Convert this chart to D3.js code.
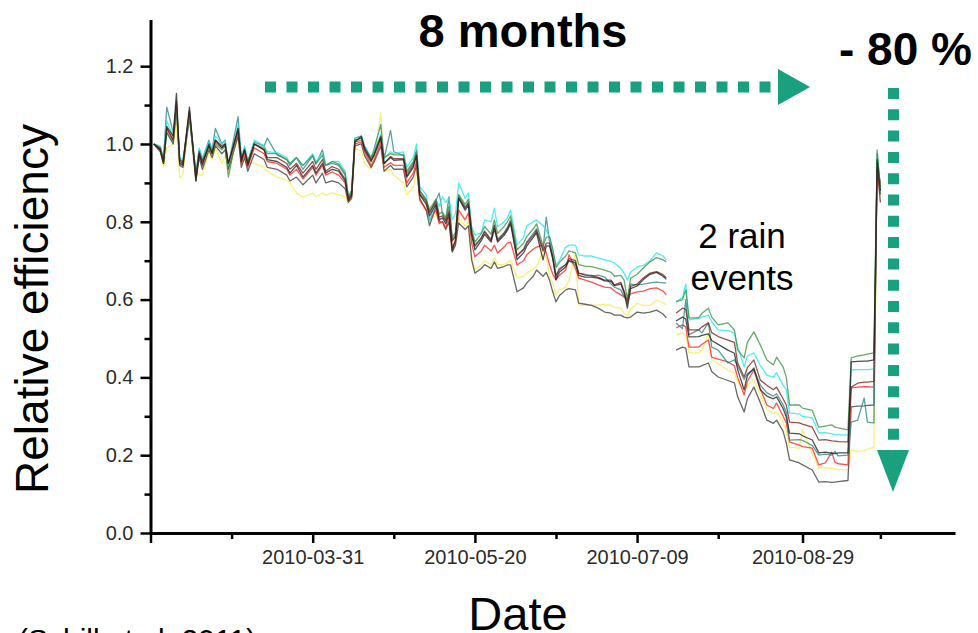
<!DOCTYPE html>
<html>
<head>
<meta charset="utf-8">
<script src="https://cdn.jsdelivr.net/npm/d3@7"></script>
<style>
  body { margin: 0; background: #fff; }
  svg { display: block; }
</style>
</head>
<body>
<svg id="chart" width="978" height="633"></svg>
<script>
// Sample dates (daily readings, turning points kept)
const dates = [
  "2010-02-10","2010-02-12","2010-02-13","2010-02-14","2010-02-16","2010-02-17","2010-02-18","2010-02-19","2010-02-21","2010-02-23",
  "2010-02-24","2010-02-25","2010-02-27","2010-02-28","2010-03-01","2010-03-03","2010-03-04","2010-03-05","2010-03-08","2010-03-09",
  "2010-03-10","2010-03-11","2010-03-13","2010-03-16","2010-03-17","2010-03-20","2010-03-23","2010-03-24","2010-03-26","2010-03-28",
  "2010-03-31","2010-04-01","2010-04-03","2010-04-04","2010-04-06","2010-04-08","2010-04-10","2010-04-11","2010-04-12","2010-04-13",
  "2010-04-15","2010-04-16","2010-04-18","2010-04-19","2010-04-21","2010-04-22","2010-04-24","2010-04-25","2010-04-28","2010-04-29",
  "2010-05-01","2010-05-02","2010-05-03","2010-05-05","2010-05-06","2010-05-08","2010-05-09","2010-05-10","2010-05-11","2010-05-12",
  "2010-05-13","2010-05-14","2010-05-15","2010-05-17","2010-05-18","2010-05-19","2010-05-20","2010-05-22","2010-05-23","2010-05-25",
  "2010-05-26","2010-05-27","2010-05-29","2010-05-30","2010-05-31","2010-06-02","2010-06-04","2010-06-05","2010-06-07","2010-06-08",
  "2010-06-10","2010-06-11","2010-06-12","2010-06-13","2010-06-14","2010-06-15","2010-06-17","2010-06-18","2010-06-20","2010-06-21",
  "2010-06-23","2010-06-25","2010-06-27","2010-06-29","2010-07-01","2010-07-02","2010-07-04","2010-07-05","2010-07-06","2010-07-07",
  "2010-07-09","2010-07-11","2010-07-13","2010-07-15","2010-07-17","2010-07-18",
  "2010-07-21","2010-07-23","2010-07-24","2010-07-25","2010-07-28","2010-07-29","2010-07-31","2010-08-01","2010-08-03","2010-08-06",
  "2010-08-08","2010-08-09","2010-08-11","2010-08-12","2010-08-14","2010-08-16","2010-08-18","2010-08-20","2010-08-21","2010-08-23",
  "2010-08-24","2010-08-25","2010-08-28","2010-08-29","2010-09-01","2010-09-03","2010-09-05","2010-09-07","2010-09-08","2010-09-09",
  "2010-09-12","2010-09-13","2010-09-15","2010-09-17","2010-09-18","2010-09-20","2010-09-21","2010-09-22"
];
// No readings between these two dates (rain events)
const gapAfter = "2010-07-18";

const cyanValues = [
  1.000,0.995,0.965,1.060,1.020,1.100,0.965,0.960,1.080,0.925,
  0.990,0.965,1.005,0.985,1.020,1.000,1.010,0.945,1.050,0.965,
  0.995,0.955,1.010,0.995,0.980,0.978,0.965,0.950,0.965,0.945,
  0.975,0.955,0.975,0.945,0.955,0.955,0.930,0.865,0.880,1.015,
  1.020,0.995,0.965,0.985,1.025,0.962,0.980,0.975,0.980,0.940,
  0.965,1.000,0.890,0.870,0.800,0.856,0.840,0.864,0.850,0.862,
  0.805,0.820,0.900,0.860,0.874,0.787,0.766,0.772,0.805,0.800,
  0.835,0.787,0.800,0.810,0.830,0.740,0.760,0.790,0.800,0.805,
  0.790,0.779,0.760,0.727,0.689,0.700,0.735,0.740,0.740,0.715,
  0.712,0.712,0.707,0.702,0.698,0.694,0.680,0.668,0.650,0.670,
  0.684,0.688,0.700,0.720,0.712,0.702,
  0.595,0.605,0.640,0.548,0.552,0.555,0.560,0.543,0.522,0.520,
  0.514,0.480,0.427,0.455,0.463,0.430,0.406,0.400,0.412,0.380,
  0.368,0.308,0.306,0.300,0.296,0.257,0.258,0.255,0.253,0.252,
  0.252,0.419,0.420,0.420,0.420,0.422,0.965,0.885
];
const greenValues = [
  1.000,0.985,0.950,1.030,1.005,1.090,0.955,0.950,1.070,0.920,
  0.970,0.955,0.990,0.975,1.000,0.985,0.995,0.915,1.040,0.960,
  0.985,0.955,1.000,0.990,0.975,0.975,0.960,0.950,0.965,0.945,
  0.970,0.950,0.970,0.945,0.955,0.948,0.925,0.865,0.880,1.005,
  1.010,0.990,0.965,0.980,1.020,0.965,0.975,0.972,0.972,0.930,
  0.955,0.980,0.880,0.858,0.832,0.858,0.820,0.825,0.810,0.840,
  0.760,0.772,0.870,0.845,0.858,0.782,0.748,0.770,0.788,0.768,
  0.805,0.770,0.788,0.800,0.815,0.728,0.745,0.762,0.782,0.795,
  0.738,0.760,0.762,0.730,0.683,0.695,0.712,0.725,0.720,0.690,
  0.686,0.685,0.680,0.676,0.670,0.660,0.662,0.650,0.600,0.655,
  0.665,0.682,0.697,0.708,0.702,0.697,
  0.594,0.600,0.625,0.553,0.553,0.565,0.578,0.555,0.535,0.540,
  0.522,0.470,0.450,0.490,0.517,0.483,0.445,0.432,0.452,0.427,
  0.400,0.329,0.329,0.321,0.315,0.272,0.275,0.278,0.272,0.270,
  0.265,0.450,0.455,0.458,0.460,0.463,0.975,0.890
];
const brownValues = [
  1.000,0.990,0.960,1.040,1.010,1.110,0.960,0.950,1.085,0.920,
  0.980,0.955,0.995,0.980,1.010,0.995,1.000,0.950,1.035,0.960,
  0.985,0.950,1.000,0.985,0.965,0.965,0.950,0.935,0.950,0.925,
  0.955,0.935,0.960,0.930,0.942,0.935,0.910,0.860,0.872,1.010,
  1.015,0.990,0.958,0.975,1.020,0.950,0.968,0.962,0.962,0.918,
  0.945,0.972,0.872,0.852,0.825,0.852,0.812,0.815,0.802,0.828,
  0.750,0.762,0.862,0.835,0.848,0.772,0.737,0.758,0.775,0.752,
  0.790,0.752,0.770,0.782,0.800,0.712,0.728,0.745,0.765,0.778,
  0.725,0.745,0.745,0.712,0.662,0.676,0.690,0.705,0.700,0.668,
  0.663,0.662,0.657,0.650,0.650,0.638,0.644,0.622,0.590,0.634,
  0.640,0.656,0.668,0.672,0.664,0.656,
  0.565,0.578,0.575,0.522,0.522,0.530,0.540,0.515,0.505,0.496,
  0.490,0.437,0.401,0.425,0.445,0.393,0.380,0.368,0.375,0.345,
  0.329,0.285,0.283,0.280,0.272,0.239,0.240,0.237,0.236,0.235,
  0.234,0.375,0.385,0.388,0.388,0.390,0.940,0.850
];
const blackValues = [
  1.000,0.985,0.950,1.045,1.020,1.130,0.950,0.945,1.095,0.905,
  0.975,0.945,1.000,0.975,1.010,0.990,1.000,0.950,1.040,0.955,
  0.985,0.945,1.000,0.985,0.960,0.955,0.940,0.925,0.945,0.915,
  0.945,0.925,0.950,0.925,0.935,0.930,0.905,0.855,0.868,1.005,
  1.020,0.985,0.955,0.972,1.015,0.950,0.965,0.958,0.960,0.915,
  0.940,0.970,0.870,0.845,0.815,0.845,0.805,0.810,0.795,0.820,
  0.727,0.752,0.860,0.830,0.842,0.765,0.728,0.752,0.768,0.748,
  0.782,0.748,0.765,0.778,0.795,0.703,0.720,0.738,0.760,0.772,
  0.702,0.738,0.738,0.705,0.652,0.670,0.684,0.700,0.695,0.662,
  0.658,0.658,0.655,0.648,0.647,0.636,0.640,0.617,0.578,0.628,
  0.635,0.652,0.665,0.670,0.660,0.652,
  0.545,0.555,0.550,0.504,0.505,0.508,0.512,0.495,0.485,0.470,
  0.462,0.420,0.368,0.405,0.424,0.368,0.352,0.345,0.350,0.320,
  0.298,0.257,0.255,0.250,0.239,0.206,0.208,0.205,0.204,0.206,
  0.206,0.440,0.441,0.442,0.442,0.445,0.960,0.880
];
const tealValues = [
  1.000,0.990,0.960,1.095,1.030,1.100,0.960,0.955,1.080,0.920,
  0.985,0.960,1.010,0.985,1.040,1.000,1.010,0.945,1.070,0.965,
  0.990,0.955,1.005,0.995,1.015,0.972,0.960,0.945,0.965,0.935,
  0.970,0.948,0.985,0.945,0.950,0.945,0.920,0.862,0.878,1.015,
  1.020,0.995,0.962,0.990,1.050,0.962,1.035,0.980,0.970,0.925,
  0.950,0.985,0.880,0.855,0.822,0.855,0.874,0.820,0.805,0.864,
  0.755,0.765,0.868,0.838,0.850,0.772,0.740,0.760,0.776,0.755,
  0.792,0.755,0.772,0.786,0.805,0.714,0.730,0.748,0.770,0.782,
  0.730,0.812,0.750,0.705,0.660,0.680,0.690,0.700,0.690,0.668,
  0.665,0.660,0.663,0.658,0.640,0.632,0.625,0.607,0.600,0.640,
  0.638,0.640,0.643,0.645,0.643,0.643,
  0.540,0.525,0.600,0.510,0.522,0.515,0.540,0.478,0.470,0.437,
  0.445,0.430,0.395,0.410,0.420,0.380,0.360,0.352,0.358,0.330,
  0.310,0.239,0.240,0.238,0.225,0.200,0.203,0.200,0.210,0.198,
  0.200,0.285,0.290,0.347,0.285,0.283,0.985,0.880
];
const redValues = [
  1.000,0.985,0.955,1.040,1.010,1.100,0.950,0.950,1.075,0.915,
  0.975,0.950,0.995,0.975,1.005,0.990,0.995,0.945,1.030,0.950,
  0.975,0.940,0.990,0.975,0.955,0.950,0.935,0.920,0.935,0.910,
  0.940,0.920,0.945,0.920,0.928,0.920,0.900,0.855,0.866,1.000,
  1.005,0.980,0.945,0.960,1.005,0.940,0.952,0.945,0.945,0.900,
  0.925,0.955,0.855,0.830,0.805,0.830,0.795,0.800,0.785,0.812,
  0.735,0.750,0.830,0.805,0.823,0.745,0.710,0.725,0.740,0.725,
  0.740,0.720,0.735,0.745,0.748,0.689,0.700,0.715,0.730,0.735,
  0.740,0.720,0.690,0.665,0.650,0.662,0.676,0.715,0.680,0.655,
  0.650,0.645,0.638,0.632,0.630,0.622,0.612,0.607,0.600,0.615,
  0.620,0.622,0.628,0.630,0.622,0.612,
  0.527,0.535,0.530,0.478,0.478,0.485,0.496,0.452,0.447,0.440,
  0.430,0.400,0.355,0.390,0.419,0.370,0.329,0.320,0.334,0.300,
  0.283,0.234,0.226,0.222,0.218,0.175,0.180,0.208,0.182,0.178,
  0.175,0.373,0.375,0.376,0.376,0.375,0.945,0.900
];
const yellowValues = [
  1.000,0.985,0.940,0.990,1.000,1.050,0.913,0.920,1.080,0.930,
  0.920,0.920,0.980,0.960,0.990,0.950,0.970,0.928,1.020,0.950,
  0.960,0.953,0.950,0.940,0.930,0.915,0.907,0.900,0.874,0.864,
  0.874,0.865,0.874,0.868,0.874,0.870,0.864,0.850,0.860,0.990,
  0.980,0.950,0.935,0.967,1.080,0.930,0.935,0.920,0.900,0.870,
  0.890,0.930,0.860,0.830,0.800,0.820,0.800,0.800,0.780,0.800,
  0.730,0.740,0.810,0.790,0.800,0.710,0.676,0.690,0.700,0.690,
  0.707,0.690,0.690,0.695,0.702,0.656,0.660,0.668,0.680,0.684,
  0.727,0.710,0.660,0.643,0.612,0.625,0.632,0.650,0.720,0.586,
  0.586,0.586,0.586,0.588,0.585,0.580,0.578,0.565,0.560,0.575,
  0.591,0.585,0.585,0.599,0.592,0.586,
  0.509,0.515,0.512,0.463,0.463,0.470,0.514,0.445,0.435,0.419,
  0.410,0.390,0.368,0.380,0.395,0.355,0.318,0.308,0.312,0.285,
  0.262,0.221,0.218,0.265,0.205,0.167,0.168,0.166,0.165,0.163,
  0.163,0.213,0.210,0.212,0.215,0.221,0.930,0.870
];
const grayValues = [
  1.000,0.980,0.950,1.030,1.000,1.100,0.945,0.940,1.070,0.905,
  0.965,0.935,0.985,0.965,0.995,0.975,0.985,0.935,1.020,0.940,
  0.965,0.930,0.975,0.960,0.940,0.935,0.920,0.905,0.915,0.895,
  0.920,0.900,0.925,0.900,0.905,0.900,0.885,0.850,0.860,0.995,
  1.000,0.970,0.940,0.955,0.995,0.930,0.945,0.935,0.935,0.890,
  0.915,0.945,0.860,0.830,0.790,0.840,0.800,0.800,0.780,0.800,
  0.722,0.740,0.797,0.780,0.790,0.702,0.668,0.680,0.690,0.680,
  0.697,0.680,0.685,0.689,0.689,0.620,0.630,0.643,0.660,0.676,
  0.660,0.670,0.650,0.620,0.594,0.610,0.625,0.628,0.625,0.591,
  0.588,0.585,0.578,0.568,0.565,0.560,0.560,0.555,0.553,0.555,
  0.568,0.565,0.568,0.573,0.563,0.553,
  0.470,0.478,0.475,0.427,0.427,0.430,0.437,0.415,0.401,0.392,
  0.386,0.350,0.311,0.345,0.375,0.335,0.290,0.282,0.290,0.262,
  0.231,0.188,0.180,0.175,0.162,0.131,0.132,0.130,0.131,0.132,
  0.135,0.324,0.326,0.327,0.328,0.329,0.950,0.870
];

// Axis ticks
const xDomain = ["2010-02-09", "2010-10-15"];
const xMajorTicks = ["2010-02-09", "2010-03-31", "2010-05-20", "2010-07-09", "2010-08-29"];
const xMinorTicks = ["2010-03-06", "2010-04-25", "2010-06-14", "2010-08-03", "2010-09-22"];
const yMajorTicks = [0.0, 0.2, 0.4, 0.6, 0.8, 1.0, 1.2];
const yMinorTicks = [0.1, 0.3, 0.5, 0.7, 0.9, 1.1];

const series = [
  { name: "yellow", color: "#f3ee4a", values: yellowValues },
  { name: "gray",   color: "#3c3c3c", values: grayValues },
  { name: "red",    color: "#ff2020", values: redValues },
  { name: "teal",   color: "#2a8585", values: tealValues },
  { name: "cyan",   color: "#1ee8ee", values: cyanValues },
  { name: "green",  color: "#3d8f3d", values: greenValues },
  { name: "brown",  color: "#7d1d1d", values: brownValues },
  { name: "black",  color: "#1e1e1e", values: blackValues }
];

const FONT = "'Liberation Sans', Arial, Helvetica, sans-serif";
const ARROW = "#19a07e";

const parse = d3.utcParse("%Y-%m-%d");
const svg = d3.select("#chart");

const x = d3.scaleUtc().domain(xDomain.map(parse)).range([150.5, 955]);
const y = d3.scaleLinear().domain([0, 1.32]).range([533, 19.5]);

// Data lines, split at the gap
const when = dates.map(parse);
const gapDate = parse(gapAfter);
const line = d3.line().x(d => x(d[0])).y(d => y(d[1]));
const gLines = svg.append("g").attr("fill", "none");
series.forEach(s => {
  const pts = when.map((d, i) => [d, s.values[i]]);
  const parts = [pts.filter(p => p[0] <= gapDate), pts.filter(p => p[0] > gapDate)];
  parts.forEach(part => {
    gLines.append("path")
      .attr("d", line(part))
      .attr("stroke", s.color)
      .attr("stroke-width", 1.3)
      .attr("stroke-opacity", 0.78)
      .attr("stroke-linejoin", "round");
  });
});

// Axes
function styleAxis(g) {
  g.select(".domain").attr("stroke", "#000").attr("stroke-width", 3);
  g.selectAll(".tick line").attr("stroke", "#000").attr("stroke-width", 2.5);
  g.selectAll(".tick text").attr("fill", "#2b2b2b").style("font-family", FONT).style("font-size", "20px");
}

const labelled = new Set(xMajorTicks.slice(1));
svg.append("g")
  .attr("transform", "translate(0,533)")
  .call(d3.axisBottom(x)
    .tickValues(xMinorTicks.map(parse))
    .tickSize(6).tickSizeOuter(0).tickFormat(""))
  .call(g => { g.select(".domain").remove(); g.selectAll(".tick line").attr("stroke", "#000").attr("stroke-width", 2.5); });
svg.append("g")
  .attr("transform", "translate(0,533)")
  .call(d3.axisBottom(x)
    .tickValues(xMajorTicks.map(parse))
    .tickSize(10).tickSizeOuter(0).tickPadding(7)
    .tickFormat(d => { const s = d3.utcFormat("%Y-%m-%d")(d); return labelled.has(s) ? s : ""; }))
  .call(styleAxis);

svg.append("g")
  .attr("transform", "translate(150.5,0)")
  .call(d3.axisLeft(y).tickValues(yMinorTicks).tickSize(6).tickSizeOuter(0).tickFormat(""))
  .call(g => { g.select(".domain").remove(); g.selectAll(".tick line").attr("stroke", "#000").attr("stroke-width", 2.5); });
svg.append("g")
  .attr("transform", "translate(150.5,0)")
  .call(d3.axisLeft(y).tickValues(yMajorTicks).tickSize(10).tickSizeOuter(0).tickPadding(7)
    .tickFormat(d3.format(".1f")))
  .call(styleAxis);

// Axis titles
svg.append("text")
  .attr("transform", "translate(48,309) rotate(-90)")
  .attr("text-anchor", "middle")
  .style("font-family", FONT).style("font-size", "46px").attr("fill", "#000")
  .text("Relative efficiency");
svg.append("text")
  .attr("x", 518).attr("y", 630)
  .attr("text-anchor", "middle")
  .style("font-family", FONT).style("font-size", "47px").attr("fill", "#000")
  .text("Date");
svg.append("text")
  .attr("x", 18).attr("y", 650)
  .style("font-family", FONT).style("font-size", "30px").attr("fill", "#000")
  .text("(Schill et al. 2011)");

// Annotations
svg.append("text")
  .attr("x", 523).attr("y", 47)
  .attr("text-anchor", "middle")
  .style("font-family", FONT).style("font-size", "47px").style("font-weight", "bold")
  .text("8 months");
svg.append("text")
  .attr("x", 839).attr("y", 65)
  .style("font-family", FONT).style("font-size", "46px").style("font-weight", "bold")
  .text("- 80 %");
svg.append("text")
  .attr("x", 742).attr("y", 248)
  .attr("text-anchor", "middle")
  .style("font-family", FONT).style("font-size", "35px")
  .text("2 rain");
svg.append("text")
  .attr("x", 742).attr("y", 290)
  .attr("text-anchor", "middle")
  .style("font-family", FONT).style("font-size", "35px")
  .text("events");

// Dotted arrows
const gArrow = svg.append("g");
gArrow.append("line")
  .attr("x1", 265).attr("x2", 771).attr("y1", 87).attr("y2", 87)
  .attr("stroke", ARROW).attr("stroke-width", 11)
  .attr("stroke-dasharray", "11 10.5");
gArrow.append("path")
  .attr("d", "M778,69 L810,87 L778,105 Z")
  .attr("fill", ARROW);
gArrow.append("line")
  .attr("x1", 893.5).attr("x2", 893.5).attr("y1", 88).attr("y2", 440)
  .attr("stroke", ARROW).attr("stroke-width", 11)
  .attr("stroke-dasharray", "11 10.3");
gArrow.append("path")
  .attr("d", "M877,450 L909,450 L893,492 Z")
  .attr("fill", ARROW);
</script>
</body>
</html>
